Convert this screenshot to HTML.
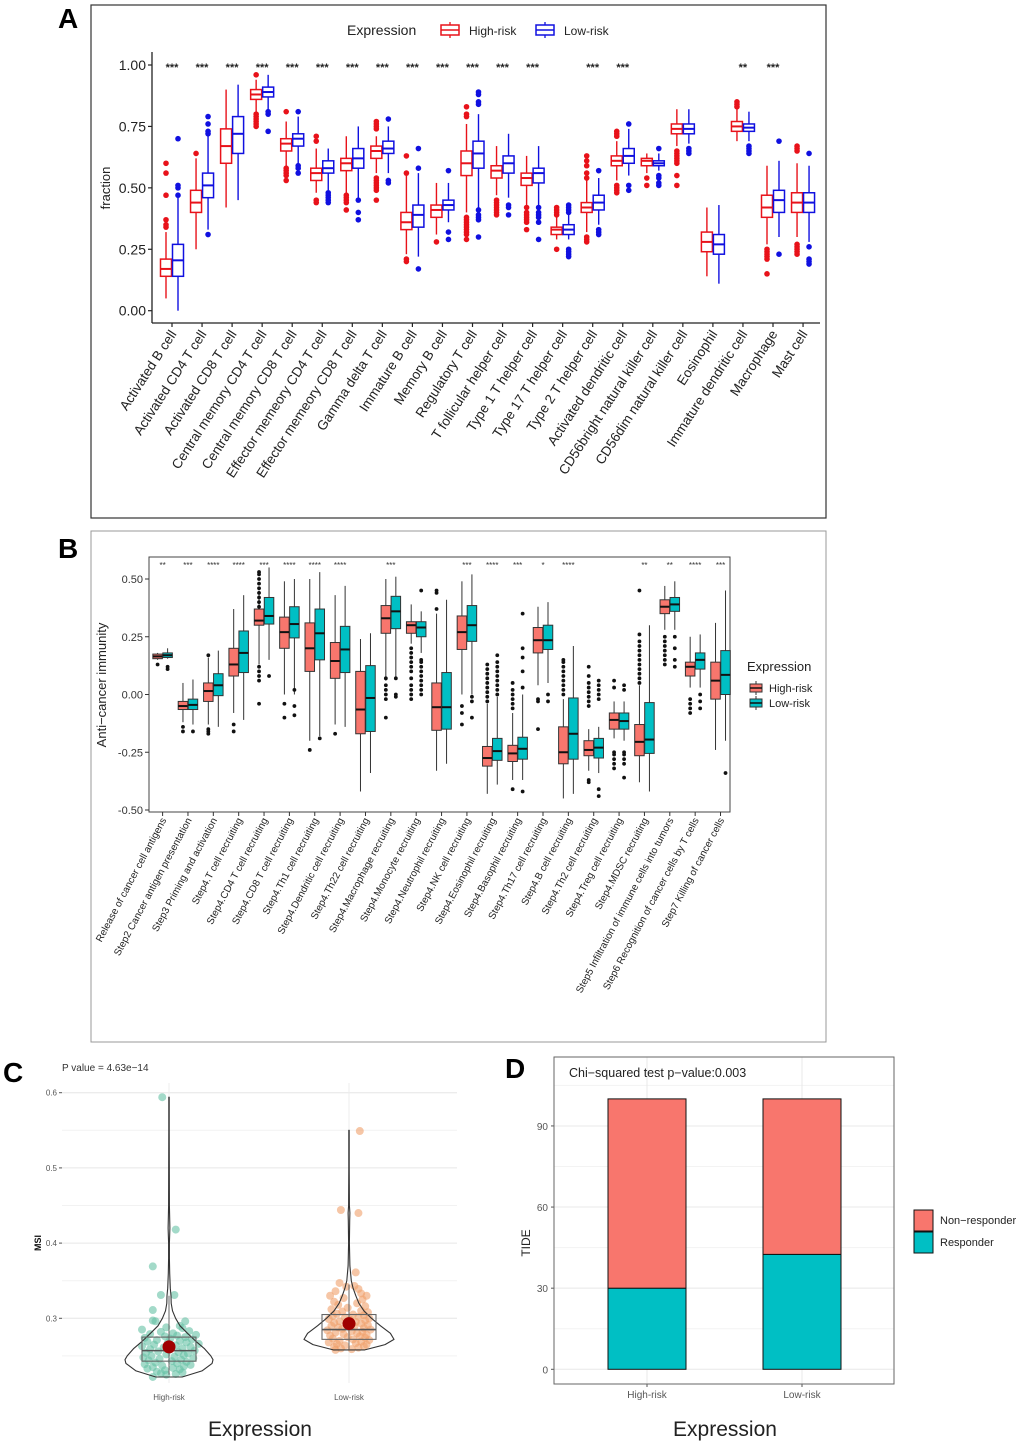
<!DOCTYPE html>
<html><head><meta charset="utf-8"><style>
html,body{margin:0;padding:0;background:#fff;}
svg{display:block;font-family:"Liberation Sans",Arial,sans-serif;}
</style></head><body>
<svg id="fig" width="1020" height="1446" viewBox="0 0 1020 1446" xmlns="http://www.w3.org/2000/svg">
<rect x="0" y="0" width="1020" height="1446" fill="#fff"/>
<rect x="91" y="5" width="735" height="513" fill="none" stroke="#333" stroke-width="1.2"/>
<rect x="91" y="531" width="735" height="511" fill="none" stroke="#999" stroke-width="1"/>
<text x="58" y="28" font-size="28" font-weight="bold">A</text>
<text x="58" y="558" font-size="28" font-weight="bold">B</text>
<text x="3" y="1082" font-size="28" font-weight="bold">C</text>
<text x="505" y="1078" font-size="28" font-weight="bold">D</text>
<g id="ga"></g>
<g id="gb"></g>
<g id="gc"></g>
<g id="gd"></g>
</svg>
<script>
// ---------- Panel A data ----------
const aCategories=["Activated B cell","Activated CD4 T cell","Activated CD8 T cell","Central memory CD4 T cell","Central memory CD8 T cell","Effector memeory CD4 T cell","Effector memeory CD8 T cell","Gamma delta T cell","Immature  B cell","Memory B cell","Regulatory T cell","T follicular helper cell","Type 1 T helper cell","Type 17 T helper cell","Type 2 T helper cell","Activated dendritic cell","CD56bright natural killer cell","CD56dim natural killer cell","Eosinophil","Immature dendritic cell","Macrophage","Mast cell"];
const aHigh=[[.05,.14,.17,.21,.32],[.25,.40,.44,.49,.62],[.42,.60,.67,.74,.90],[.80,.86,.88,.90,.94],[.57,.65,.68,.70,.77],[.48,.53,.56,.58,.66],[.48,.57,.60,.62,.71],[.56,.62,.65,.67,.71],[.23,.33,.36,.40,.55],[.31,.38,.41,.43,.52],[.40,.55,.60,.65,.76],[.47,.54,.57,.59,.67],[.42,.51,.54,.56,.63],[.29,.31,.33,.34,.38],[.32,.40,.42,.44,.53],[.53,.59,.61,.63,.69],[.56,.59,.61,.62,.64],[.67,.72,.74,.76,.82],[.14,.24,.28,.32,.42],[.69,.73,.75,.77,.82],[.27,.38,.42,.47,.59],[.30,.40,.44,.48,.60]];
const aLow=[[0,.14,.205,.27,.46],[.33,.46,.51,.56,.72],[.45,.64,.72,.79,.92],[.82,.87,.89,.91,.96],[.60,.67,.70,.72,.79],[.49,.56,.58,.61,.66],[.46,.58,.62,.66,.75],[.56,.64,.66,.69,.75],[.22,.34,.39,.43,.56],[.36,.41,.43,.45,.52],[.42,.58,.64,.69,.80],[.46,.56,.60,.63,.72],[.43,.52,.56,.58,.67],[.29,.31,.33,.35,.39],[.35,.41,.44,.47,.54],[.55,.60,.63,.66,.74],[.57,.59,.60,.61,.64],[.68,.72,.74,.76,.82],[.11,.23,.27,.31,.43],[.69,.73,.745,.76,.81],[.30,.40,.45,.49,.61],[.28,.40,.44,.48,.59]];
const aHighOut=[[.34,.35,.37,.47,.56,.60],[.64],[],[.75,.76,.77,.78,.79,.80,.96],[.53,.55,.56,.57,.58,.81],[.44,.45,.69,.71],[.41,.44,.45,.46,.47],[.45,.49,.50,.51,.52,.53,.54,.74,.75,.76,.77],[.20,.21,.56,.63],[.28],[.29,.31,.32,.33,.34,.35,.36,.37,.38,.79,.80,.83],[.39,.40,.41,.42,.43,.44,.45],[.33,.36,.37,.38,.39,.40,.42],[.25,.39,.40,.41,.42],[.28,.29,.30,.54,.56,.59,.61,.63],[.48,.49,.50,.51,.71,.72,.73],[.51,.54],[.51,.55,.60,.61,.62,.63,.64,.65],[],[.83,.84,.85],[.15,.21,.22,.23,.24,.25],[.23,.24,.25,.26,.27,.65,.66,.67]];
const aLowOut=[[.47,.50,.51,.70],[.31,.72,.73,.76,.79],[],[.73,.80,.81],[.56,.58,.59,.81],[.44,.45,.46,.47,.48],[.37,.40,.45],[.52,.53,.78],[.17,.58,.66],[.29,.32,.57],[.30,.37,.38,.39,.41,.84,.85,.88,.89],[.39,.42,.43],[.29,.36,.38,.39,.40,.42],[.22,.23,.24,.25,.40,.41,.42,.43],[.31,.32,.33,.57],[.49,.51,.76],[.51,.52,.54,.55,.66],[.64,.65,.66],[],[.64,.65,.66,.67],[.23,.69],[.19,.20,.21,.26,.64]];
const aSig=["***","***","***","***","***","***","***","***","***","***","***","***","***","","***","***","","","","**","***",""];
const aTicks=[0,0.25,0.5,0.75,1.0];
const aTickLabels=["0.00","0.25","0.50","0.75","1.00"];

// ---------- Panel B data ----------
const bCategories=["Release of cancer cell antigens","Step2 Cancer antigen presentation","Step3 Priming and activation","Step4.T cell recruiting","Step4.CD4 T cell recruiting","Step4.CD8 T cell recruiting","Step4.Th1 cell recruiting","Step4.Dendritic cell recruiting","Step4.Th22 cell recruiting","Step4.Macrophage recruiting","Step4.Monocyte recruiting","Step4.Neutrophil recruiting","Step4.NK cell recruiting","Step4.Eosinophil recruiting","Step4.Basophil recruiting","Step4.Th17 cell recruiting","Step4.B cell recruiting","Step4.Th2 cell recruiting","Step4.Treg cell recruiting","Step4.MDSC recruiting","Step5 Infiltration of immune cells into tumors","Step6 Recognition of cancer cells by T cells","Step7 Killing of cancer cells"];
const bHigh=[[.15,.155,.165,.175,.18],[-.12,-.065,-.05,-.03,.05],[-.13,-.03,.015,.05,.16],[-.08,.08,.13,.20,.37],[.13,.30,.32,.37,.45],[0,.20,.27,.335,.49],[-.20,.10,.20,.31,.50],[-.13,.07,.145,.225,.43],[-.42,-.17,-.065,.10,.24],[.06,.265,.33,.385,.50],[.22,.265,.30,.315,.39],[-.33,-.155,-.055,.05,.35],[0,.195,.27,.34,.49],[-.43,-.31,-.275,-.225,-.04],[-.37,-.29,-.255,-.22,-.08],[.04,.18,.235,.29,.38],[-.45,-.30,-.25,-.14,-.02],[-.33,-.265,-.24,-.20,-.15],[-.19,-.15,-.11,-.08,-.03],[-.38,-.265,-.205,-.13,.04],[.28,.35,.38,.41,.47],[.03,.08,.12,.14,.25],[-.24,-.02,.06,.14,.31]];
const bLow=[[.155,.16,.17,.18,.20],[-.13,-.065,-.045,-.02,.065],[-.14,-.005,.04,.09,.19],[-.11,.095,.18,.275,.43],[.15,.305,.34,.42,.55],[0,.245,.305,.38,.50],[-.18,.15,.265,.37,.53],[-.14,.095,.195,.295,.47],[-.34,-.16,-.015,.125,.265],[.07,.285,.36,.425,.51],[.18,.25,.29,.315,.36],[-.30,-.15,-.055,.095,.41],[0,.23,.30,.385,.52],[-.39,-.285,-.245,-.19,-.01],[-.37,-.28,-.235,-.185,0],[.05,.195,.235,.30,.40],[-.43,-.28,-.17,-.015,.21],[-.34,-.275,-.23,-.19,-.14],[-.20,-.15,-.115,-.08,-.03],[-.42,-.255,-.195,-.035,.30],[.28,.36,.39,.42,.49],[.03,.11,.15,.18,.26],[-.20,0,.085,.19,.45]];
const bHighOut=[[.13],[-.14,-.16],[-.15,-.16,-.17,.17],[-.13,-.16],[-.04,.06,.08,.10,.12,.38,.40,.42,.44,.46,.48,.50,.52,.53],[-.04,-.10],[-.24],[-.17],[],[-.10,-.02,0,.02,.04,.07],[-.02,0,.02,.04,.07,.10,.12,.14,.16,.18,.20],[.37,.44,.45],[-.05,-.08,-.13],[-.03,-.01,.01,.03,.05,.07,.09,.11,.13],[-.41,-.06,-.04,-.02,0,.02,.05],[-.15,-.03,-.02],[0,.02,.04,.06,.08,.10,.12,.14,.15],[-.38,-.37,-.05,-.03,-.01,.01,.03,.05,.08,.12],[-.32,-.30,-.28,-.26,-.25,.03,.06],[.05,.07,.09,.11,.13,.15,.17,.19,.21,.23,.26,.45],[.13,.15,.17,.19,.21,.23,.25],[-.08,-.06,-.04,-.02],[]];
const bLowOut=[[.11,.12],[-.16],[],[],[.08],[.02,-.05,-.09],[-.19],[],[],[-.01,.0,.07],[0,.02,.04,.06,.08,.10,.12,.14,.15,.45],[],[-.01,-.03,-.10],[0,.02,.04,.06,.08,.10,.12,.14,.17],[-.42,.03,.10,.16,.20,.35],[-.03,0],[],[-.44,-.41,-.02,0,.02,.04,.06],[-.36,-.30,-.28,-.26,-.25,.02,.04],[],[.12,.15,.20,.25],[-.06,-.03,0],[-.34]];
const bSig=["**","***","****","****","***","****","****","****","","***","","","***","****","***","*","****","","","**","**","****","***"];
const bTicks=[-0.5,-0.25,0,0.25,0.5];
const bTickLabels=["-0.50","-0.25","0.00","0.25","0.50"];

// ---------- Panel C data ----------
const cCategories=["High-risk","Low-risk"];
const cMeans=[0.262,0.293];
const cBoxes=[[.225,.243,.257,.275,.33],[.258,.272,.285,.305,.345]];
const cViolinLevels=[[.222,.23,.24,.245,.25,.26,.27,.28,.29,.30,.31,.32,.33,.34,.36,.38,.40,.42,.45,.50,.55,.594],[.258,.265,.272,.28,.29,.30,.31,.32,.33,.34,.35,.37,.40,.43,.44,.45,.50,.55]];
const cViolinDens=[[.3,.75,.98,1,.95,.8,.6,.42,.25,.15,.08,.05,.045,.03,.015,.01,.01,.02,.008,.006,.005,.004],[.35,.8,1,.92,.7,.5,.33,.22,.15,.09,.05,.02,.01,.015,.02,.01,.005,.004]];
const cHighVals=[0.594,0.418,0.369,0.331,0.331,0.311,0.297,0.296,0.296,0.29,0.288,0.287,0.285,0.283,0.282,0.28,0.279,0.278,0.277,0.276,0.275,0.274,0.273,0.272,0.271,0.27,0.269,0.268,0.267,0.266,0.265,0.264,0.263,0.262,0.261,0.26,0.259,0.258,0.257,0.256,0.255,0.254,0.253,0.252,0.251,0.25,0.249,0.248,0.247,0.246,0.245,0.244,0.243,0.242,0.241,0.24,0.239,0.238,0.237,0.236,0.235,0.234,0.233,0.232,0.231,0.229,0.228,0.227,0.226,0.225,0.222];
const cHighJit=[-.05,.05,-.12,-.06,.04,-.12,-.12,-.10,.12,.08,-.02,.10,-.20,.15,-.06,.03,-.14,.20,.06,-.03,.12,-.18,.01,.17,-.09,.08,-.16,.13,-.01,.22,-.11,.05,-.20,.16,-.04,.10,-.14,.00,.19,-.08,.07,-.17,.14,-.02,.11,-.13,.04,-.19,.18,-.07,.09,-.15,.02,.13,-.10,.06,-.18,.16,-.05,.11,-.12,.03,-.16,.08,-.03,-.09,.10,-.06,.05,-.02,-.12];
const cLowVals=[0.549,0.444,0.44,0.361,0.347,0.343,0.342,0.339,0.336,0.333,0.33,0.33,0.327,0.325,0.322,0.32,0.318,0.316,0.314,0.312,0.31,0.309,0.308,0.306,0.305,0.304,0.303,0.302,0.301,0.3,0.299,0.298,0.297,0.296,0.295,0.294,0.293,0.292,0.291,0.29,0.289,0.288,0.287,0.286,0.285,0.284,0.283,0.282,0.281,0.28,0.279,0.278,0.277,0.276,0.275,0.274,0.273,0.272,0.271,0.27,0.269,0.268,0.267,0.266,0.265,0.264,0.263,0.262,0.261,0.26,0.259,0.258];
const cLowJit=[.08,-.06,.07,.05,-.07,.04,-.02,.07,-.10,.09,-.14,.13,-.04,.10,-.11,.06,-.08,.12,-.01,-.13,.09,-.05,.14,-.09,.03,.11,-.12,.07,-.03,.15,-.15,.01,.12,-.07,.05,-.11,.09,-.02,.14,-.13,.04,-.08,.11,-.05,.16,-.16,.02,.10,-.10,.06,-.04,.13,-.14,.08,-.01,.12,-.12,.03,.15,-.07,.09,-.15,.05,-.09,.13,-.03,.11,-.11,.07,-.06,.02,-.10];
const cTicks=[0.3,0.4,0.5,0.6];
const cTickLabels=["0.3","0.4","0.5","0.6"];

// ---------- Panel D data ----------
const dCategories=["High-risk","Low-risk"];
const dResponder=[30,42.5];
const dNonResponder=[70,57.5];
const dTicks=[0,30,60,90];
const dTickLabels=["0","30","60","90"];

const NS="http://www.w3.org/2000/svg";
function mk(tag,attrs,parent){const e=document.createElementNS(NS,tag);for(const k in attrs)e.setAttribute(k,attrs[k]);parent.appendChild(e);return e;}
function txt(s,attrs,parent){const e=mk("text",attrs,parent);e.textContent=s;return e;}

// ================= Panel A =================
(function(){
const g=document.getElementById("ga");
const y=v=>310.7-245.7*v;
const x=i=>172+i*30.05;
const L=152,R=820,B=323;
let e;
e=txt("Expression",{x:347,y:35,"font-size":14,fill:"#222"},g);


[["High-risk","#e8121a",441],["Low-risk","#1010e0",536]].forEach(function(it){
  const lg=mk("g",{},g);
  
  
  mk("line",{x1:it[2]+9,x2:it[2]+9,y1:22,y2:38,stroke:it[1],"stroke-width":1.3},lg);
  mk("rect",{x:it[2],y:25,width:18,height:10,fill:"#fff",stroke:it[1],"stroke-width":1.5},lg);
  mk("line",{x1:it[2],x2:it[2]+18,y1:30,y2:30,stroke:it[1],"stroke-width":1.5},lg);
  txt(it[0],{x:it[2]+28,y:35,"font-size":12,fill:"#222"},lg);
});
e=mk("line",{x1:L,x2:L,y1:52,y2:B,stroke:"#222","stroke-width":1.3},g);


e=mk("line",{x1:L,x2:R,y1:B,y2:B,stroke:"#222","stroke-width":1.3},g);


aTicks.forEach(function(t,i){
  mk("line",{x1:L-4,x2:L,y1:y(t),y2:y(t),stroke:"#222","stroke-width":1.2},g);
  const tl=txt(aTickLabels[i],{x:L-6,y:y(t)+5,"font-size":14,"text-anchor":"end",fill:"#222"},g);
  
  
});
e=txt("fraction",{x:0,y:0,"font-size":13,"text-anchor":"middle",fill:"#222",transform:"translate(110,188) rotate(-90)"},g);


function box(cx,d,out,col,name){
  const bg=mk("g",{},g);
  
  
  const w=11;
  mk("line",{x1:cx,x2:cx,y1:y(d[0]),y2:y(d[4]),stroke:col,"stroke-width":1.4},bg);
  mk("rect",{x:cx-w/2,y:y(d[3]),width:w,height:y(d[1])-y(d[3]),fill:"#fff",stroke:col,"stroke-width":1.5},bg);
  mk("line",{x1:cx-w/2,x2:cx+w/2,y1:y(d[2]),y2:y(d[2]),stroke:col,"stroke-width":2},bg);
  out.forEach(function(o){mk("circle",{cx:cx,cy:y(o),r:2.8,fill:col},bg);});
}
aCategories.forEach(function(c,i){
  box(x(i)-6,aHigh[i],aHighOut[i],"#e8121a","box-high-risk");
  box(x(i)+6,aLow[i],aLowOut[i],"#1010e0","box-low-risk");
  mk("line",{x1:x(i),x2:x(i),y1:B,y2:B+4,stroke:"#222","stroke-width":1.2},g);
  const tl=txt(c,{x:0,y:0,"font-size":13.5,"text-anchor":"end",fill:"#222",transform:"translate("+(x(i)+5)+","+(B+11)+") rotate(-57)"},g);
  
  
  if(aSig[i]){const s=txt(aSig[i],{x:x(i),y:71,"font-size":11,"text-anchor":"middle",fill:"#222","font-weight":"bold"},g);
  
  }
});
})();

// ================= Panel B =================
(function(){
const g=document.getElementById("gb");
const y=v=>694.5-231*v;
const x=i=>162.6+i*25.36;
const L=149,R=730,T=557,B=812;
let e=mk("rect",{x:L,y:T,width:R-L,height:B-T,fill:"#fff",stroke:"#444","stroke-width":1},g);


bTicks.forEach(function(t,i){
  mk("line",{x1:L-4,x2:L,y1:y(t),y2:y(t),stroke:"#333"},g);
  const tl=txt(bTickLabels[i],{x:L-6,y:y(t)+4,"font-size":11,"text-anchor":"end",fill:"#333"},g);
  
  
});
e=txt("Anti\u2212cancer immunity",{x:0,y:0,"font-size":13,"text-anchor":"middle",fill:"#222",transform:"translate(106,685) rotate(-90)"},g);


function box(cx,d,out,col,name){
  const bg=mk("g",{},g);
  
  
  const w=9.5;
  mk("line",{x1:cx,x2:cx,y1:y(d[0]),y2:y(d[4]),stroke:"#333","stroke-width":1},bg);
  mk("rect",{x:cx-w/2,y:y(d[3]),width:w,height:Math.max(1,y(d[1])-y(d[3])),fill:col,stroke:"#333","stroke-width":1},bg);
  mk("line",{x1:cx-w/2,x2:cx+w/2,y1:y(d[2]),y2:y(d[2]),stroke:"#111","stroke-width":2},bg);
  out.forEach(function(o){mk("circle",{cx:cx,cy:y(o),r:1.9,fill:"#111"},bg);});
}
bCategories.forEach(function(c,i){
  box(x(i)-5,bHigh[i],bHighOut[i],"#f8766d","box-high-risk");
  box(x(i)+5,bLow[i],bLowOut[i],"#00bfc4","box-low-risk");
  mk("line",{x1:x(i),x2:x(i),y1:B,y2:B+4,stroke:"#333"},g);
  const tl=txt(c,{x:0,y:0,"font-size":10,"text-anchor":"end",fill:"#222",transform:"translate("+(x(i)+4)+","+(B+8)+") rotate(-62)"},g);
  
  
  if(bSig[i]){const s=txt(bSig[i],{x:x(i),y:568,"font-size":8,"text-anchor":"middle",fill:"#333"},g);
  
  }
});
e=txt("Expression",{x:747,y:671,"font-size":13,fill:"#222"},g);


[["High-risk","#f8766d",688],["Low-risk","#00bfc4",703]].forEach(function(it){
  const lg=mk("g",{},g);
  
  
  mk("line",{x1:756,x2:756,y1:it[2]-7,y2:it[2]+7,stroke:"#333"},lg);
  mk("rect",{x:750,y:it[2]-4,width:12,height:8,fill:it[1],stroke:"#333"},lg);
  mk("line",{x1:750,x2:762,y1:it[2],y2:it[2],stroke:"#111","stroke-width":1.5},lg);
  txt(it[0],{x:769,y:it[2]+4,"font-size":11,fill:"#222"},lg);
});
})();

// ================= Panel C =================
(function(){
const g=document.getElementById("gc");
const y=v=>1092.7-(v-0.6)*752;
const x=i=>169+i*180;
const L=62,R=457;
let e=txt("P value = 4.63e\u221214",{x:62,y:1071,"font-size":10,fill:"#333"},g);


[0.25,0.35,0.45,0.55].forEach(function(t){mk("line",{x1:L,x2:R,y1:y(t),y2:y(t),stroke:"#f2f2f2","stroke-width":1},g);});
cTicks.forEach(function(t,i){
  mk("line",{x1:L,x2:R,y1:y(t),y2:y(t),stroke:"#e6e6e6","stroke-width":1},g);
  mk("line",{x1:L-3,x2:L,y1:y(t),y2:y(t),stroke:"#555"},g);
  const tl=txt(cTickLabels[i],{x:L-5,y:y(t)+3,"font-size":8,"text-anchor":"end",fill:"#555"},g);
  
  
});
cCategories.forEach(function(c,i){
  mk("line",{x1:x(i),x2:x(i),y1:1083,y2:1383,stroke:"#ececec"},g);
  const tl=txt(c,{x:x(i),y:1400,"font-size":8,"text-anchor":"middle",fill:"#555"},g);
  
  
});
e=txt("MSI",{x:0,y:0,"font-size":9,"font-weight":"bold","text-anchor":"middle",fill:"#111",transform:"translate(41,1243) rotate(-90)"},g);


e=txt("Expression",{x:260,y:1436,"font-size":21,"text-anchor":"middle",fill:"#222"},g);


const vals=[cHighVals,cLowVals],jit=[cHighJit,cLowJit],cols=["#66c2a5","#f0a06a"];
[0,1].forEach(function(i){
  const pg=mk("g",{},g);
  
  
  vals[i].forEach(function(v,k){mk("circle",{cx:x(i)+jit[i][k]*135,cy:y(v),r:4,fill:cols[i],"fill-opacity":0.6},pg);});
  const lv=cViolinLevels[i],dn=cViolinDens[i],hw=i?45:44;
  let pts=[];
  lv.forEach(function(v,k){pts.push((x(i)+dn[k]*hw).toFixed(1)+","+y(v).toFixed(1));});
  for(let k=lv.length-1;k>=0;k--)pts.push((x(i)-dn[k]*hw).toFixed(1)+","+y(lv[k]).toFixed(1));
  const vp=mk("polygon",{points:pts.join(" "),fill:"none",stroke:"#333","stroke-width":1.1,"stroke-linejoin":"round"},g);
  
  
  const d=cBoxes[i];
  const bg=mk("g",{},g);
  
  
  mk("line",{x1:x(i),x2:x(i),y1:y(d[0]),y2:y(d[4]),stroke:"#666","stroke-width":1},bg);
  mk("rect",{x:x(i)-27,y:y(d[3]),width:54,height:y(d[1])-y(d[3]),fill:"none",stroke:"#666","stroke-width":1.1},bg);
  mk("line",{x1:x(i)-27,x2:x(i)+27,y1:y(d[2]),y2:y(d[2]),stroke:"#555","stroke-width":1.6},bg);
  const m=mk("circle",{cx:x(i),cy:y(cMeans[i]),r:6.5,fill:"#a00000"},g);
  
  
});
})();

// ================= Panel D =================
(function(){
const g=document.getElementById("gd");
const y=v=>1369.3-v*2.704;
const x=i=>647+i*155;
const L=554,R=894,T=1057,B=1384;
const bw=78;
[15,45,75,105].forEach(function(t){mk("line",{x1:L,x2:R,y1:y(t),y2:y(t),stroke:"#f3f3f3"},g);});
dTicks.forEach(function(t,i){
  mk("line",{x1:L,x2:R,y1:y(t),y2:y(t),stroke:"#e8e8e8"},g);
  mk("line",{x1:L-3,x2:L,y1:y(t),y2:y(t),stroke:"#555"},g);
  const tl=txt(dTickLabels[i],{x:L-6,y:y(t)+4,"font-size":10,"text-anchor":"end",fill:"#555"},g);
  
  
});
dCategories.forEach(function(c,i){
  mk("line",{x1:x(i),x2:x(i),y1:T,y2:B,stroke:"#e8e8e8"},g);
  const r=mk("rect",{x:x(i)-bw/2,y:y(dResponder[i]),width:bw,height:y(0)-y(dResponder[i]),fill:"#00bfc4",stroke:"#111","stroke-width":1},g);
  
  
  const n=mk("rect",{x:x(i)-bw/2,y:y(dResponder[i]+dNonResponder[i]),width:bw,height:y(dResponder[i])-y(dResponder[i]+dNonResponder[i]),fill:"#f8766d",stroke:"#111","stroke-width":1},g);
  
  
  mk("line",{x1:x(i),x2:x(i),y1:B,y2:B+3,stroke:"#555"},g);
  const tl=txt(c,{x:x(i),y:1398,"font-size":10,"text-anchor":"middle",fill:"#555"},g);
  
  
});
let e=mk("rect",{x:L,y:T,width:R-L,height:B-T,fill:"none",stroke:"#666","stroke-width":1},g);


e=txt("Chi\u2212squared test p\u2212value:0.003",{x:569,y:1077,"font-size":12.5,fill:"#222"},g);


e=txt("TIDE",{x:0,y:0,"font-size":12,"text-anchor":"middle",fill:"#222",transform:"translate(530,1243) rotate(-90)"},g);


e=txt("Expression",{x:725,y:1436,"font-size":21,"text-anchor":"middle",fill:"#222"},g);


[["Non\u2212responder","#f8766d",1210],["Responder","#00bfc4",1232]].forEach(function(it){
  const lg=mk("g",{},g);
  
  
  mk("rect",{x:914,y:it[2],width:19,height:21,fill:it[1],stroke:"#111"},lg);
  txt(it[0],{x:940,y:it[2]+14,"font-size":11,fill:"#222"},lg);
});
})();
</script>
</body></html>
